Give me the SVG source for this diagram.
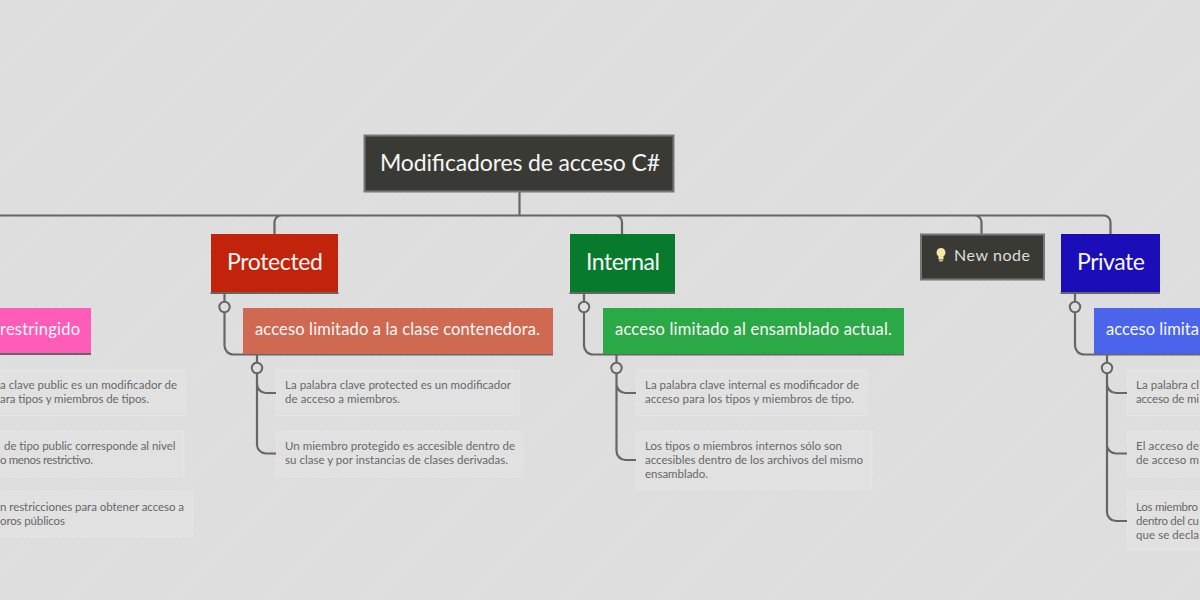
<svg xmlns="http://www.w3.org/2000/svg" width="1200" height="600" viewBox="0 0 1200 600">
<style>
text{font-family:"Lato","Noto Sans",sans-serif;font-weight:400}
.c{fill:none;stroke:#666;stroke-width:2.2}
.k{fill:#dedede;stroke:#666;stroke-width:2}
.t1{font-size:23px;fill:#f5f5f5}
.t2{font-size:16.500px;fill:#f8f8f8}
.t3{font-size:11.500px;fill:#686868}
.b{fill:#e1e1e1;stroke:#e5e5e5;stroke-width:1}
.u{stroke:#666;stroke-width:2}
</style>
<defs>
<pattern id="bg" width="5" height="5" patternUnits="userSpaceOnUse" patternTransform="rotate(-45)">
<rect width="5" height="5" fill="#dfdfdf"/><rect width="5" height="2.500" fill="#dddddd"/>
</pattern>
</defs>
<rect width="1200" height="600" fill="url(#bg)"/>
<g id="connectors">
<path class="c" d="M519.5 192V215.5M0 215.5H1104a6.500 6.500 0 0 1 6.500 6.500V234M281 215.500a6.500 6.500 0 0 0 -6.500 6.500V234M615.500 215.500a6.500 6.500 0 0 1 6.500 6.500V234M975 215.500a6.500 6.500 0 0 1 6.500 6.500V234"/>
<path class="c" d="M224.500 293V345a9 9 0 0 0 9 9.500H553M257 354.500V445a9 9 0 0 0 9 8.500H276M257 384a9 9 0 0 0 9 9H276"/>
<path class="c" d="M584 293V345a9 9 0 0 0 9 9.500H904M616.500 354.500V451a9 9 0 0 0 9 9H636M616.500 384a9 9 0 0 0 9 9H636"/>
<path class="c" d="M1075 293V345a9 9 0 0 0 9 9.500H1200M1107 354.500V512a9 9 0 0 0 9 9H1127M1107 384a9 9 0 0 0 9 9H1127M1107 446a9 9 0 0 0 9 7.500H1127"/>
<circle class="k" cx="224.500" cy="307" r="5.200"/><circle class="k" cx="257" cy="368" r="5.200"/>
<circle class="k" cx="584" cy="307" r="5.200"/><circle class="k" cx="616.500" cy="368" r="5.200"/>
<circle class="k" cx="1075" cy="307" r="5.200"/><circle class="k" cx="1107" cy="368" r="5.200"/>
</g>
<g id="root"><rect x="364.500" y="135.500" width="309" height="56" fill="#3a3a35" stroke="#777" stroke-width="2"/><text class="t1" x="380" y="171" textLength="280">Modificadores de acceso C#</text></g>
<g id="protected"><rect x="211" y="234" width="127" height="58" fill="#c1240a"/><line class="u" x1="210.500" y1="293" x2="338.500" y2="293"/><text class="t1" x="227" y="270" textLength="96">Protected</text></g>
<g id="internal"><rect x="570" y="234" width="105" height="58" fill="#087a2e"/><line class="u" x1="569.500" y1="293" x2="675" y2="293"/><text class="t1" x="586" y="270" textLength="74">Internal</text></g>
<g id="private"><rect x="1061" y="234" width="99" height="58" fill="#1b0db7"/><line class="u" x1="1060.500" y1="293" x2="1160" y2="293"/><text class="t1" x="1077" y="270" textLength="68">Private</text></g>
<g id="newnode"><rect x="921" y="234.500" width="123" height="45" fill="#3a3a35" stroke="#777" stroke-width="2"/><path d="M941 248a4.500 4.500 0 0 1 2.500 8.200V259.500H938.500V256.200A4.500 4.500 0 0 1 941 248Z" fill="#f7e7a6"/><rect x="939" y="260" width="4" height="1.500" fill="#bbb"/><text x="954" y="261" font-size="16" fill="#ddd" textLength="76">New node</text></g>
<g id="pink"><rect x="0" y="308" width="91" height="46" fill="#ff5bb8"/><line class="u" x1="0" y1="354" x2="91" y2="354"/><text class="t2" x="0" y="335" textLength="80">restringido</text></g>
<g id="protected-sub"><rect x="243" y="308" width="310" height="46" fill="#cf6952"/><text class="t2" x="255" y="335" textLength="285">acceso limitado a la clase contenedora.</text></g>
<g id="internal-sub"><rect x="603" y="308" width="301" height="46" fill="#2ca947"/><text class="t2" x="615" y="335" textLength="277">acceso limitado al ensamblado actual.</text></g>
<g id="private-sub"><rect x="1094" y="308" width="106" height="46" fill="#4a65eb"/><text class="t2" x="1106" y="335" textLength="93">acceso limita</text></g>
<g id="pub-1"><rect class="b" x="-5" y="370.500" width="190" height="45"/><text class="t3" x="0" y="389" textLength="177">a clave public es un modificador de</text><text class="t3" x="0" y="403" textLength="149">ara tipos y miembros de tipos.</text></g>
<g id="pub-2"><rect class="b" x="-5" y="431.500" width="189" height="45"/><text class="t3" x="4" y="450" textLength="171.500">de tipo public corresponde al nivel</text><text class="t3" x="0" y="464" textLength="93">o menos restrictivo.</text></g>
<g id="pub-3"><rect class="b" x="-5" y="491.500" width="197.500" height="45"/><text class="t3" x="0" y="511" textLength="184">n restricciones para obtener acceso a</text><text class="t3" x="0" y="525" textLength="65">oros públicos</text></g>
<g id="pro-1"><rect class="b" x="276.500" y="370.500" width="243" height="45"/><text class="t3" x="285" y="389" textLength="226">La palabra clave protected es un modificador</text><text class="t3" x="285" y="403" textLength="115">de acceso a miembros.</text></g>
<g id="pro-2"><rect class="b" x="276.500" y="431.500" width="246.500" height="45"/><text class="t3" x="285" y="450" textLength="230">Un miembro protegido es accesible dentro de</text><text class="t3" x="285" y="464" textLength="223">su clase y por instancias de clases derivadas.</text></g>
<g id="int-1"><rect class="b" x="636.500" y="370.500" width="230.500" height="45"/><text class="t3" x="645" y="389" textLength="214">La palabra clave internal es modificador de</text><text class="t3" x="645" y="403" textLength="209">acceso para los tipos y miembros de tipo.</text></g>
<g id="int-2"><rect class="b" x="636.500" y="431.500" width="235.500" height="58"/><text class="t3" x="645" y="450" textLength="197">Los tipos o miembros internos sólo son</text><text class="t3" x="645" y="464" textLength="218">accesibles dentro de los archivos del mismo</text><text class="t3" x="645" y="478" textLength="63">ensamblado.</text></g>
<g id="pri-1"><rect class="b" x="1127.500" y="370.500" width="80" height="45"/><text class="t3" x="1136" y="389" textLength="63">La palabra cl</text><text class="t3" x="1136" y="403" textLength="63">acceso de mi</text></g>
<g id="pri-2"><rect class="b" x="1127.500" y="431.500" width="80" height="45"/><text class="t3" x="1136" y="450" textLength="63">El acceso de</text><text class="t3" x="1136" y="464" textLength="63">de acceso m</text></g>
<g id="pri-3"><rect class="b" x="1127.500" y="491.500" width="80" height="58"/><text class="t3" x="1136" y="511" textLength="62">Los miembro</text><text class="t3" x="1136" y="525" textLength="63">dentro del cu</text><text class="t3" x="1136" y="539" textLength="63">que se decla</text></g>
</svg>
